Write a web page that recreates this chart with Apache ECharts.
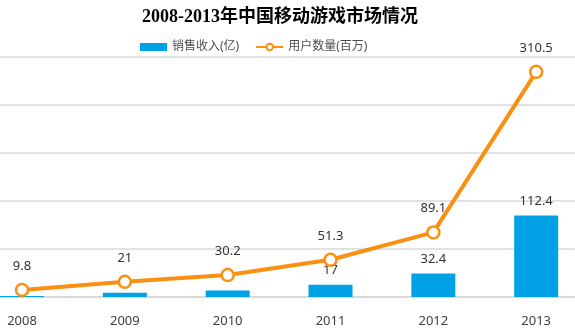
<!DOCTYPE html>
<html><head><meta charset="utf-8">
<script src="https://cdn.jsdelivr.net/npm/echarts@6/dist/echarts.min.js"></script>
<style>html,body{margin:0;padding:0;background:#fff}#c{width:575px;height:334px}</style>
</head><body><div id="c"></div>
<script>
const years = ['2008','2009','2010','2011','2012','2013'];
const revenue = [1.5, 6, 9, 17, 32.4, 112.4];
const revenueLabelShown = [false, false, false, true, true, true];
const users = [9.8, 21, 30.2, 51.3, 89.1, 310.5];
const titleText = '2008-2013年中国移动游戏市场情况';
const revenueName = '销售收入(亿)';
const usersName = '用户数量(百万)';

const chart = echarts.init(document.getElementById('c'));
const font = '"Noto Sans", "Noto Sans CJK SC", sans-serif';
chart.setOption({
  animation: false,
  title: {
    text: titleText, left: 137, top: 3,
    textStyle: { fontFamily: '"Liberation Serif", "Noto Sans CJK SC", serif', fontSize: 18, fontWeight: 'bold', color: '#000' }
  },
  legend: {
    left: 135, top: 36, itemWidth: 27, itemHeight: 8, itemGap: 16,
    textStyle: { fontFamily: font, fontSize: 12, color: '#4d4d4d' },
    data: [{ name: revenueName, icon: 'rect' }, { name: usersName }]
  },
  grid: { left: -29.4, width: 617, top: 57, height: 240, outerBoundsMode: 'none', containLabel: false },
  xAxis: {
    type: 'category', data: years, boundaryGap: true,
    axisLine: { lineStyle: { color: '#d9d9d9', width: 2 } },
    axisTick: { show: false },
    axisLabel: { margin: 18, fontFamily: font, fontSize: 13, color: '#404040' }
  },
  yAxis: {
    type: 'value', min: 0, max: 331, interval: 66.2,
    axisLabel: { show: false }, axisLine: { show: false }, axisTick: { show: false },
    splitLine: { lineStyle: { color: '#d9d9d9', width: 1.5 } }
  },
  series: [
    {
      name: revenueName, type: 'bar', barWidth: 44,
      itemStyle: { color: '#00A2E5' },
      data: revenue.map((v, i) => ({ value: v, label: { show: revenueLabelShown[i] } })),
      label: { show: true, position: 'top', distance: 8, fontFamily: font, fontSize: 13, color: '#333' }
    },
    {
      name: usersName, type: 'line', data: users, z: 5,
      symbol: 'circle', symbolSize: 12,
      lineStyle: { color: '#FA9012', width: 4 },
      itemStyle: { color: '#fff', borderColor: '#FA9012', borderWidth: 2.5 },
      label: { show: true, position: 'top', distance: 10, fontFamily: font, fontSize: 13, color: '#333' }
    }
  ]
});
</script></body></html>
